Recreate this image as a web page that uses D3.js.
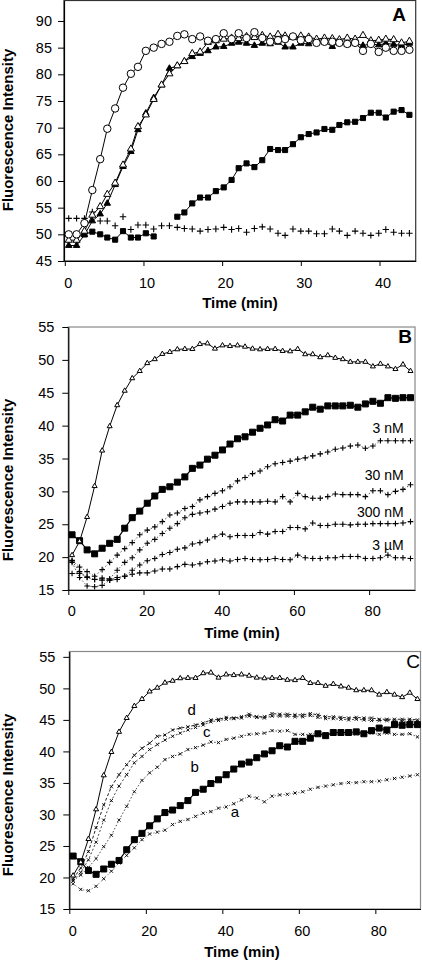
<!DOCTYPE html>
<html><head><meta charset="utf-8">
<script src="https://cdn.jsdelivr.net/npm/d3@7"></script>
<style>html,body{margin:0;padding:0;background:#fff;} svg{display:block;} text{font-family:"Liberation Sans",Arial,sans-serif;fill:#000;}</style>
</head><body><svg id="chart" width="422" height="960"></svg>
<script>
// ---------- Panel A data ----------
const timeA = [0.5,1.5,2.5,3.5,4.5,5.4,6.4,7.4,8.4,9.3,10.3,11.3,12.3,13.3,14.3,15.2,16.2,17.2,18.2,19.2,20.2,21.2,22.1,23.1,24.1,25.1,26.1,27.1,28.0,29.0,30.0,31.0,32.0,33.0,34.0,34.9,35.9,36.9,37.9,38.9,39.9,40.8,41.8,42.8,43.8];
const aCircles = [50,50,52.1,58.3,64.1,69.8,73.6,77.5,80.1,81.4,84.4,85.0,85.7,86.1,87.2,87.5,86.6,87.1,86.3,86.6,87.7,86.6,87.7,86.8,87.9,86.8,86.1,86.4,86.6,87.1,86.4,86.6,85.9,86.1,86.1,85.9,85.7,85.9,84.4,85.7,84.2,85.0,84.4,84.4,84.6];
const aOpenTri = [48.9,48.9,50.6,53.6,55.2,57.5,59.6,63.0,66.0,70.2,72.4,75.3,78.0,80.1,81.6,82.4,83.9,84.2,86.0,86.3,86.6,86.8,86.7,87.1,86.9,87.3,87.0,87.5,87.2,86.9,87.2,87.0,86.6,86.8,86.7,86.5,86.8,86.6,87.3,86.3,86.4,86.6,86.5,85.9,86.2];
const aFilledTri = [47.9,47.9,49.9,52.5,53.8,55.8,59.3,62.7,65.5,69.6,72.7,75.6,78.0,81.1,81.6,82.4,83.3,83.9,84.4,85.1,85.2,85.8,86.0,85.8,85.4,85.8,85.7,86.0,85.1,85.1,85.8,85.7,86.1,86.1,85.2,86.0,85.6,85.8,85.4,85.7,85.5,85.8,85.6,85.4,85.8];
const aSquares = [null,null,50.0,50.5,50.0,49.4,49.0,50.6,49.4,49.4,50.2,49.6,null,null,53.3,54.1,55.8,56.9,56.9,58.1,58.8,60.2,62.4,63.3,62.6,63.9,66.0,65.8,65.8,66.9,68.2,68.8,69.1,69.75,69.6,70.5,71.0,71.1,71.8,72.8,72.8,71.9,73.0,73.3,72.4];
const aCrosses = [53.0,53.0,53.0,54.2,52.5,52.5,51.6,53.3,50.9,51.75,51.75,51.0,51.6,51.6,51.3,51.1,51.0,50.6,50.9,51.0,51.3,50.9,51.1,50.4,51.1,51.4,51.0,50.2,49.8,51.0,50.6,50.6,50.1,50.1,51.0,50.6,49.8,50.6,50.2,49.8,50.2,50.9,50.4,50.2,50.2];
const ticksAX = [0,10,20,30,40];
const ticksAY = [45,50,55,60,65,70,75,80,85,90];

// ---------- Panels B and C data ----------
const timeBC = [1,3,5,7,9,11,13,15,17,19,21,23,25,27,29,31,33,35,37,39,41,43,45,47,49,51,53,55,57,59,61,63,65,67,69,71,73,75,77,79,81,83,85,87,89,91];
const controlTri = [20.3,22.4,26.1,30.8,36.2,39.9,43.1,45.3,47.2,48.3,49.5,50.1,50.9,51.2,51.6,51.65,51.65,52.4,52.5,51.7,52.2,52.1,52.2,52.0,51.7,51.6,51.65,51.65,51.35,51.3,51.65,50.85,50.85,50.4,50.7,50.3,50.1,49.7,49.7,49.7,49.0,49.4,49.0,48.6,49.3,48.3];
const controlSq = [23.4,22.5,21.1,20.5,21.35,22.1,22.7,24.4,26.0,27.0,28.2,29.3,30.3,30.7,31.4,32.2,33.5,34.0,34.9,35.5,36.3,37.2,38.0,38.3,39.0,39.6,40.1,40.9,40.7,41.6,41.6,42.1,42.8,42.5,43.0,43.0,43.0,43.1,42.8,43.3,43.7,43.4,44.25,44.15,44.25,44.25];
const b3nM = [19.5,18.5,17.8,17.1,18.1,19.2,20.3,21.3,22.2,23.4,24.1,24.6,25.4,26.4,26.7,27.4,27.7,28.7,29.2,29.7,30.1,30.7,31.6,32.1,32.7,33.1,33.75,34.2,34.4,34.6,34.9,35.1,35.4,35.7,36.0,36.4,36.6,36.9,37.05,36.55,36.9,37.7,37.7,37.7,37.7,37.7];
const b30nM = [19.4,17.8,16.9,16.6,16.8,16.7,18.0,19.2,19.9,21.1,22.1,22.7,23.6,24.4,25.1,26.0,26.5,26.7,26.9,27.3,27.7,28.2,28.4,28.4,28.4,28.4,28.5,28.4,29.2,28.4,29.7,29.2,28.95,28.95,29.2,29.6,29.5,29.5,29.5,29.2,30.1,30.1,29.5,30.0,30.3,31.0];
const b300nM = [19.2,16.9,15.6,15.5,15.7,16.5,16.6,17.1,18.0,18.8,19.45,19.8,20.4,20.7,21.2,21.4,22.0,22.2,22.6,23.1,23.5,23.1,23.3,23.3,23.3,23.75,23.5,23.9,23.9,24.5,24.5,24.3,25.2,24.8,24.8,25.0,25.0,24.9,25.0,25.0,25.1,25.1,25.1,25.1,25.2,25.4];
const b3uM = [17.5,17.5,17.0,16.6,16.5,16.5,16.9,17.1,17.4,17.6,17.6,17.9,18.2,18.2,18.55,18.9,18.8,19.0,19.3,19.4,19.6,19.4,19.65,19.8,19.65,19.6,19.65,19.8,19.65,19.6,20.3,19.9,19.8,19.8,19.9,19.9,20.1,20.1,20.1,19.8,19.8,19.9,20.3,19.9,19.9,19.8];
const cA = [19.0,18.1,17.9,18.6,19.8,21.0,22.3,23.5,24.7,26.0,26.9,27.2,27.5,28.4,28.9,29.2,29.7,30.2,30.45,31.0,31.2,31.7,32.3,32.9,32.6,32.0,32.9,33.1,33.2,33.4,33.6,34.0,34.3,34.5,34.7,34.9,35.05,35.05,35.2,35.2,35.3,35.5,35.7,35.9,36.1,36.3];
const cB = [19.5,20.4,21.6,23.0,24.9,26.7,29.1,31.3,33.6,35.4,36.6,37.5,38.7,39.2,39.6,40.3,40.6,41.0,41.5,41.4,41.9,42.1,42.4,42.7,42.8,42.9,43.3,43.2,43.3,42.7,42.7,42.7,42.9,42.8,42.7,42.8,42.7,42.8,42.7,42.9,42.7,42.9,42.7,42.7,42.8,42.3];
const cC = [19.5,20.8,22.8,25.6,29.1,32.2,34.5,36.3,38.2,39.2,40.3,41.1,41.8,42.4,42.9,43.4,43.8,44.2,44.7,44.9,45.1,45.2,45.3,45.6,45.4,45.3,45.6,45.6,45.6,45.5,45.5,45.7,45.4,45.2,45.2,45.1,45.0,45.1,45.0,44.9,44.9,44.9,44.8,44.8,44.8,44.8];
const cD = [19.8,21.5,24.1,27.9,31.5,34.4,36.3,37.9,39.4,40.5,41.3,42.4,42.6,43.4,43.7,43.9,44.2,44.5,45.0,45.1,45.4,45.3,45.5,45.9,45.5,45.5,46.0,45.9,45.9,45.8,45.8,46.0,45.8,45.5,45.5,45.4,45.3,45.4,45.3,45.3,45.1,45.1,45.1,45.1,45.1,45.0];
const ticksBCX = [0,20,40,60,80];
const ticksBCY = [15,20,25,30,35,40,45,50,55];
const labelsB = ["3 nM","30 nM","300 nM","3 \u00b5M"];
const labelsBPos = [[89.2,39.6],[89.2,32.5],[89.2,26.8],[89.2,21.8]];
const labelsC = ["d","c","b","a"];
const labelsCPos = [[32,46.6],[35.9,43.1],[32.8,37.6],[43.3,30.4]];

// ---------- drawing ----------
const svg = d3.select("#chart");
const FONT = '"Liberation Sans", Arial, sans-serif';

function panel(cfg){
  const g = svg.append("g");
  const x = d3.scaleLinear().domain(cfg.xd).range([cfg.l, cfg.r]);
  const y = d3.scaleLinear().domain(cfg.yd).range([cfg.b, cfg.t]);
  g.append("rect").attr("x",cfg.l).attr("y",cfg.t).attr("width",cfg.r-cfg.l).attr("height",cfg.b-cfg.t)
    .attr("fill","none").attr("stroke",cfg.border).attr("stroke-width",1.2);
  const ax = g.append("g").attr("transform",`translate(0,${cfg.b})`)
    .call(d3.axisBottom(x).tickValues(cfg.xt).tickSize(5).tickPadding(cfg.xpad).tickSizeOuter(0));
  ax.selectAll("text").attr("dx",3).style("font-size","14.5px").style("font-family",FONT);
  const ay = g.append("g").attr("transform",`translate(${cfg.l},0)`)
    .call(d3.axisLeft(y).tickValues(cfg.yt).tickSize(6).tickPadding(cfg.ypad).tickSizeOuter(0));
  ay.selectAll("text").style("font-size","14.5px").style("font-family",FONT);
  [ax,ay].forEach(a=>{a.select(".domain").attr("stroke","#000").attr("stroke-width",1.2);a.selectAll("line").attr("stroke","#000");});
  g.append("text").attr("x",cfg.xtx).attr("y",cfg.xty).attr("text-anchor","middle")
    .style("font-weight","bold").style("font-size","15px").text("Time (min)");
  g.append("text").attr("transform",`translate(13,${cfg.yty}) rotate(-90)`).attr("text-anchor","middle")
    .style("font-weight","bold").style("font-size","15px").text("Fluorescence Intensity");
  g.append("text").attr("x",cfg.lx).attr("y",cfg.ly).attr("text-anchor","middle")
    .style("font-weight",cfg.lw).style("font-size","19px").text(cfg.letter);
  return {g,x,y};
}

function series(p, times, vals, opt){
  const pts = times.map((t,i)=>({t,v:vals[i]}));
  const ok = pts.filter(d=>d.v!=null);
  if(opt.line){
    const line = d3.line().defined(d=>d.v!=null).x(d=>p.x(d.t)).y(d=>p.y(d.v));
    p.g.append("path").datum(pts).attr("d",line).attr("fill","none")
      .attr("stroke",opt.lineColor||"#000").attr("stroke-width",opt.lw||1)
      .attr("stroke-dasharray",opt.dash||null);
  }
  const m = p.g.append("g");
  ok.forEach(d=>{
    const cx=p.x(d.t), cy=p.y(d.v);
    if(opt.marker==="plus"){
      const s=opt.size;
      m.append("path").attr("d",`M${cx-s},${cy}H${cx+s}M${cx},${cy-s}V${cy+s}`).attr("stroke","#000").attr("stroke-width",1.1);
    } else if(opt.marker==="x"){
      const s=opt.size;
      m.append("path").attr("d",`M${cx-s},${cy-s}L${cx+s},${cy+s}M${cx-s},${cy+s}L${cx+s},${cy-s}`).attr("stroke","#000").attr("stroke-width",0.9);
    } else {
      const type = {circle:d3.symbolCircle,tri:d3.symbolTriangle,square:d3.symbolSquare}[opt.marker];
      m.append("path").attr("d",d3.symbol(type,opt.size)()).attr("transform",`translate(${cx},${cy})`)
        .attr("fill",opt.fill).attr("stroke","#000").attr("stroke-width",1);
    }
  });
}

// Panel A
const pA = panel({l:64,r:415.7,t:0.5,b:261,xd:[-0.1,44.6],yd:[45,93.84],xt:ticksAX,yt:ticksAY,xpad:12,ypad:6,
  border:"#333",xtx:240,xty:308,yty:130,lx:399,ly:21,letter:"A",lw:"bold"});
series(pA,timeA,aCrosses,{marker:"plus",size:3.2});
series(pA,timeA,aSquares,{line:true,marker:"square",size:26,fill:"#000"});
series(pA,timeA,aFilledTri,{line:true,marker:"tri",size:18,fill:"#000"});
series(pA,timeA,aOpenTri,{line:true,marker:"tri",size:22,fill:"#fff"});
series(pA,timeA,aCircles,{line:true,marker:"circle",size:44,fill:"#fff"});

// Panel B
const pB = panel({l:68.3,r:415,t:327,b:590,xd:[0,92.2],yd:[15,55],xt:ticksBCX,yt:ticksBCY,xpad:11,ypad:8,
  border:"#888",xtx:242,xty:638,yty:480,lx:405,ly:343,letter:"B",lw:"bold"});
[b3uM,b300nM,b30nM,b3nM].forEach(arr=>series(pB,timeBC,arr,{line:true,dash:"1.5,2",lineColor:"#444",lw:0.9,marker:"plus",size:2.8}));
series(pB,timeBC,controlSq,{line:true,lw:1.2,marker:"square",size:36,fill:"#000"});
series(pB,timeBC,controlTri,{line:true,marker:"tri",size:11,fill:"#fff"});
labelsB.forEach((s,i)=>pB.g.append("text").attr("x",pB.x(labelsBPos[i][0])).attr("y",pB.y(labelsBPos[i][1])).attr("dy","0.35em")
  .attr("text-anchor","end").style("font-size","14px").text(s));

// Panel C
const pC = panel({l:69.3,r:420.5,t:651.5,b:909,xd:[0,91.8],yd:[15,55.85],xt:ticksBCX,yt:ticksBCY,xpad:12,ypad:8,
  border:"#888",xtx:242,xty:957,yty:795,lx:413,ly:668,letter:"C",lw:"normal"});
series(pC,timeBC,cA,{line:true,dash:"1,2",lineColor:"#444",lw:0.9,marker:"x",size:1.6});
series(pC,timeBC,cB,{line:true,dash:"1.5,2",lineColor:"#333",lw:0.9,marker:"x",size:1.6});
series(pC,timeBC,cC,{line:true,dash:"2,2",lineColor:"#333",lw:0.9,marker:"x",size:1.6});
series(pC,timeBC,cD,{line:true,dash:"3,2",lineColor:"#222",lw:1,marker:"x",size:1.6});
series(pC,timeBC,controlSq,{line:true,lw:1.2,marker:"square",size:36,fill:"#000"});
series(pC,timeBC,controlTri,{line:true,marker:"tri",size:11,fill:"#fff"});
labelsC.forEach((s,i)=>pC.g.append("text").attr("x",pC.x(labelsCPos[i][0])).attr("y",pC.y(labelsCPos[i][1])).attr("dy","0.35em")
  .attr("text-anchor","middle").style("font-size","15px").text(s));
</script></body></html>
